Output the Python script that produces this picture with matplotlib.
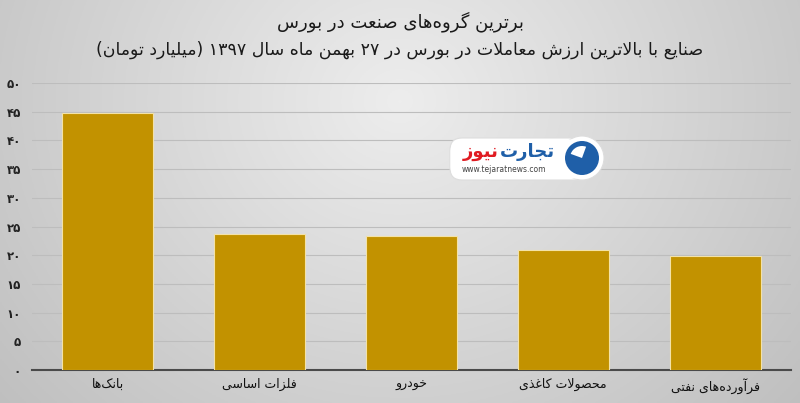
import matplotlib
matplotlib.use('Agg')
import matplotlib.pyplot as plt
from matplotlib.patches import FancyBboxPatch, Circle, Wedge
import numpy as np

plt.rcParams['font.family'] = ['DejaVu Sans']

title = 'برترین گروه\u200cهای صنعت در بورس'
subtitle = 'صنایع با بالاترین ارزش معاملات در بورس در ۲۷ بهمن ماه سال ۱۳۹۷ (میلیارد تومان)'
categories = ['بانک\u200cها', 'فلزات اساسی', 'خودرو', 'محصولات کاغذی', 'فرآورده\u200cهای نفتی']
values = [44.7, 23.7, 23.3, 20.9, 19.8]
yticks = [0, 5, 10, 15, 20, 25, 30, 35, 40, 45, 50]


# arabic shaping by hand (matplotlib has no complex text layout)
FORMS = {
    'ا': ('\uFE8D', '\uFE8E', None, None),
    'آ': ('\uFE81', '\uFE82', None, None),
    'ب': ('\uFE8F', '\uFE90', '\uFE91', '\uFE92'),
    'پ': ('\uFB56', '\uFB57', '\uFB58', '\uFB59'),
    'ت': ('\uFE95', '\uFE96', '\uFE97', '\uFE98'),
    'ث': ('\uFE99', '\uFE9A', '\uFE9B', '\uFE9C'),
    'ج': ('\uFE9D', '\uFE9E', '\uFE9F', '\uFEA0'),
    'چ': ('\uFB7A', '\uFB7B', '\uFB7C', '\uFB7D'),
    'ح': ('\uFEA1', '\uFEA2', '\uFEA3', '\uFEA4'),
    'خ': ('\uFEA5', '\uFEA6', '\uFEA7', '\uFEA8'),
    'د': ('\uFEA9', '\uFEAA', None, None),
    'ذ': ('\uFEAB', '\uFEAC', None, None),
    'ر': ('\uFEAD', '\uFEAE', None, None),
    'ز': ('\uFEAF', '\uFEB0', None, None),
    'ژ': ('\uFB8A', '\uFB8B', None, None),
    'س': ('\uFEB1', '\uFEB2', '\uFEB3', '\uFEB4'),
    'ش': ('\uFEB5', '\uFEB6', '\uFEB7', '\uFEB8'),
    'ص': ('\uFEB9', '\uFEBA', '\uFEBB', '\uFEBC'),
    'ض': ('\uFEBD', '\uFEBE', '\uFEBF', '\uFEC0'),
    'ط': ('\uFEC1', '\uFEC2', '\uFEC3', '\uFEC4'),
    'ظ': ('\uFEC5', '\uFEC6', '\uFEC7', '\uFEC8'),
    'ع': ('\uFEC9', '\uFECA', '\uFECB', '\uFECC'),
    'غ': ('\uFECD', '\uFECE', '\uFECF', '\uFED0'),
    'ف': ('\uFED1', '\uFED2', '\uFED3', '\uFED4'),
    'ق': ('\uFED5', '\uFED6', '\uFED7', '\uFED8'),
    'ک': ('\uFB8E', '\uFB8F', '\uFB90', '\uFB91'),
    'گ': ('\uFB92', '\uFB93', '\uFB94', '\uFB95'),
    'ل': ('\uFEDD', '\uFEDE', '\uFEDF', '\uFEE0'),
    'م': ('\uFEE1', '\uFEE2', '\uFEE3', '\uFEE4'),
    'ن': ('\uFEE5', '\uFEE6', '\uFEE7', '\uFEE8'),
    'و': ('\uFEED', '\uFEEE', None, None),
    'ه': ('\uFEE9', '\uFEEA', '\uFEEB', '\uFEEC'),
    'ی': ('\uFBFC', '\uFBFD', '\uFBFE', '\uFBFF'),
    'ئ': ('\uFE89', '\uFE8A', '\uFE8B', '\uFE8C'),
}
LAMALEF = {'ا': ('\uFEFB', '\uFEFC'), 'آ': ('\uFEF5', '\uFEF6')}
DIGITS = '۰۱۲۳۴۵۶۷۸۹0123456789'


def shape(text):
    chars = list(text)
    out = []
    i = 0
    while i < len(chars):
        c = chars[i]
        prev = chars[i-1] if i > 0 else None
        nxt = chars[i+1] if i+1 < len(chars) else None
        conn_prev = prev in FORMS and FORMS[prev][2] is not None
        if c == 'ل' and nxt in LAMALEF:
            out.append(LAMALEF[nxt][1] if conn_prev else LAMALEF[nxt][0])
            i += 2
            continue
        if c not in FORMS:
            if c != '\u200c':
                out.append(c)
            i += 1
            continue
        iso, fin, ini, med = FORMS[c]
        conn_next = nxt in FORMS and ini is not None
        if conn_prev and conn_next:
            out.append(med)
        elif conn_prev:
            out.append(fin)
        elif conn_next:
            out.append(ini)
        else:
            out.append(iso)
        i += 1
    # visual order: reverse, keep number runs LTR, mirror brackets
    s = out[::-1]
    res = []
    run = []
    for ch in s:
        if ch in DIGITS:
            run.append(ch)
        else:
            res.extend(run[::-1])
            run = []
            res.append({'(': ')', ')': '('}.get(ch, ch))
    res.extend(run[::-1])
    return ''.join(res)


def fa_num(n):
    return str(n).translate(str.maketrans('0123456789', '۰۱۲۳۴۵۶۷۸۹'))


fig = plt.figure(figsize=(8, 4.03), dpi=100)

# gray radial background
bg = fig.add_axes([0, 0, 1, 1], zorder=0)
gx, gy = np.meshgrid(np.linspace(0, 1, 400), np.linspace(0, 1, 200))
d = np.sqrt(((gx - 0.5) / 0.62) ** 2 + ((gy - 0.25) / 1.1) ** 2)
v = np.clip(0.93 - 0.17 * d, 0, 1)
bg.imshow(np.dstack([v, v, v]), extent=[0, 1, 1, 0], aspect='auto')
bg.set_xlim(0, 1)
bg.set_ylim(1, 0)
bg.axis('off')

ax = fig.add_axes([32/800, 33/403, 759/800, 287/403], zorder=1)
ax.set_facecolor('none')
x = np.arange(len(categories))
ax.bar(x, values, width=0.6, color='#c29200', edgecolor='#f3e2a8', linewidth=0.8, zorder=3)
ax.set_xlim(-0.5, len(categories) - 0.5)
ax.set_ylim(0, 50)
ax.set_yticks(yticks)
ax.set_yticklabels([fa_num(t) for t in yticks], fontsize=8.5, fontweight='bold', color='#222222')
ax.set_xticks(x)
ax.set_xticklabels([shape(c) for c in categories], fontsize=9, color='#111111')
ax.tick_params(length=0, pad=6)
ax.tick_params(axis='y', pad=8)
ax.grid(axis='y', color='#bdbdbd', linewidth=0.8, zorder=0)
for sp in ['top', 'right', 'left']:
    ax.spines[sp].set_visible(False)
ax.spines['bottom'].set_color('#4a4a4a')
ax.spines['bottom'].set_linewidth(1.5)

fig.text(0.5, 1 - 22/403, shape(title), ha='center', va='center', fontsize=13, color='#1a1a1a')
fig.text(0.5, 1 - 50/403, shape(subtitle), ha='center', va='center', fontsize=12.5, color='#1a1a1a')

# watermark logo
lg = fig.add_axes([0, 0, 1, 1], zorder=3)
lg.set_xlim(0, 800)
lg.set_ylim(403, 0)
lg.axis('off')
lg.add_patch(FancyBboxPatch((452, 140), 140, 38, boxstyle='round,pad=2,rounding_size=12',
                            facecolor='white', edgecolor='#dddddd', linewidth=0.8))
lg.add_patch(Circle((582, 158), 22, facecolor='white', edgecolor='#dddddd', linewidth=0.8))
lg.add_patch(FancyBboxPatch((452, 141), 135, 36, boxstyle='round,pad=1.5,rounding_size=12',
                            facecolor='white', edgecolor='none'))
lg.add_patch(Circle((582, 158), 17, facecolor='#1f5fa8', edgecolor='none'))
lg.add_patch(Wedge((582, 158), 12, 200, 290, facecolor='white', edgecolor='none'))
lg.text(527, 152, shape('تجارت'), ha='center', va='center', fontsize=13, fontweight='bold', color='#1f5fa8')
lg.text(481, 152, shape('نیوز'), ha='center', va='center', fontsize=13, fontweight='bold', color='#e01b22')
lg.text(504, 170, 'www.tejaratnews.com', ha='center', va='center', fontsize=5.5, color='#444444')

fig.savefig('out.png', dpi=100)
